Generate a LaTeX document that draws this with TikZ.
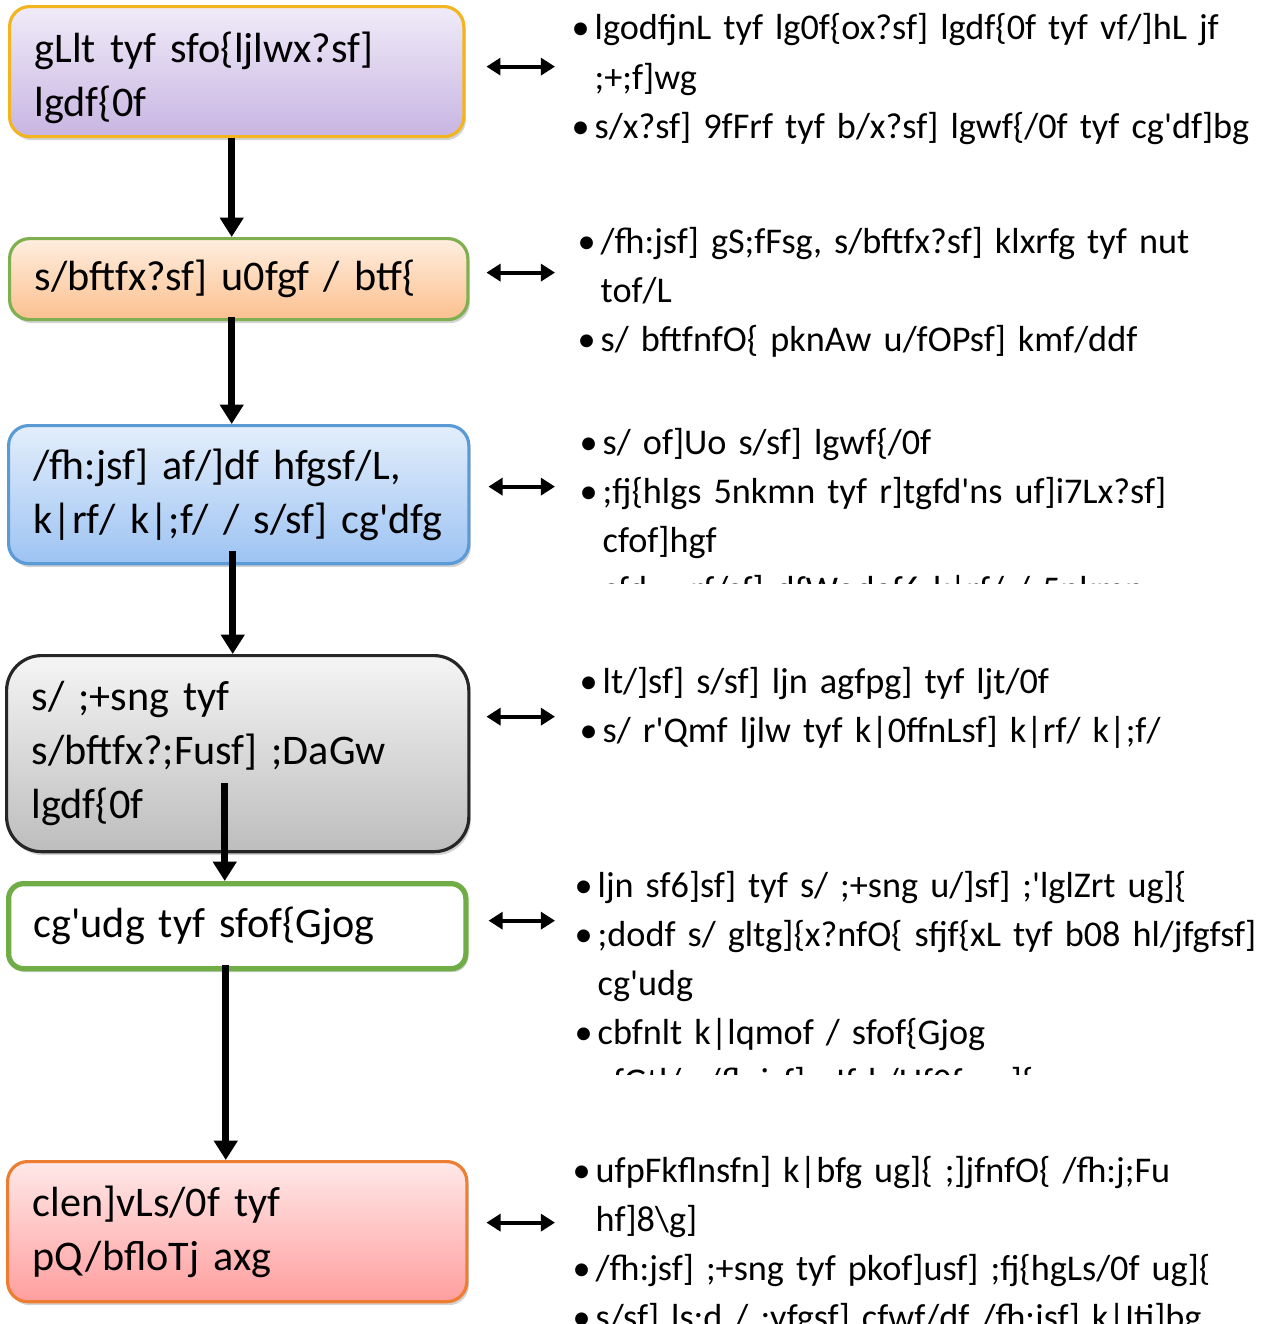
\documentclass[tikz,border=0pt]{standalone}
\usepackage{fontspec}
\setmainfont{Carlito}[Ligatures=TeXOff, WordSpace=0.85]
\usetikzlibrary{arrows.meta, % For the arrow tips
                shadows,     % For the box shadows
               }

\definecolor{lilactop}{HTML}{F0EBF8}
\definecolor{lilacbot}{HTML}{C8B5E2}
\definecolor{goldline}{HTML}{F2B41F}
\definecolor{peachtop}{HTML}{FFEEDF}
\definecolor{peachbot}{HTML}{FBC08F}
\definecolor{leafline}{HTML}{7FB050}
\definecolor{skytop}{HTML}{E3EEFB}
\definecolor{skybot}{HTML}{9DC3F3}
\definecolor{skyline}{HTML}{5B9BD5}
\definecolor{greytop}{HTML}{F5F5F5}
\definecolor{greybot}{HTML}{BDBDBD}
\definecolor{grassline}{HTML}{70AD47}
\definecolor{rosetop}{HTML}{FFE8E8}
\definecolor{rosebot}{HTML}{FF9E9E}
\definecolor{rustline}{HTML}{ED7D31}

\newcommand{\itm}{\makebox[0.23cm][l]{\textbullet}}
\newcommand{\cnt}{\hspace*{0.23cm}}

\tikzset{
  stage/.style={draw, rounded corners=0.2cm, anchor=north west, align=left,
                inner xsep=0.25cm, inner ysep=0pt, line width=0.9pt,
                font=\fontsize{12}{15.3}\selectfont,
                drop shadow={shadow xshift=0.02cm, shadow yshift=-0.035cm, opacity=0.35}},
  notes/.style={anchor=base west, inner sep=0pt, text width=7cm, align=left,
                font=\fontsize{10.3}{13.94}\selectfont},
  flow/.style={-{Triangle[length=5.5pt,width=6.5pt]}, line width=2pt},
  both/.style={{Triangle[length=4pt,width=4.8pt]}-{Triangle[length=4pt,width=4.8pt]}, line width=1.1pt},
}

\begin{document}
\begin{tikzpicture}[x=0.01cm, y=-0.01cm]
    \useasboundingbox (0,0) rectangle (1268,1324);

    % the six stages
    \node[stage, draw=goldline, top color=lilactop, bottom color=lilacbot,
          text width=4.04cm, minimum height=1.30cm] (b1) at (8,5)
          {\rule{0pt}{0.43cm}gLlt tyf sfo\{ljlwx?sf]\\lgdf\{0f};
    \node[stage, draw=leafline, top color=peachtop, bottom color=peachbot,
          text width=4.08cm, minimum height=0.81cm] (b2) at (8,237)
          {s/bftfx?sf] u0fgf / btf\{};
    \node[stage, draw=skyline, top color=skytop, bottom color=skybot,
          text width=4.1cm, minimum height=1.38cm] (b3) at (7,424)
          {/fh:jsf] af/]df hfgsf/L,\\k|rf/ k|;f/ / s/sf] cg'dfg};
    \node[stage, draw=black!85, top color=greytop, bottom color=greybot, rounded corners=0.35cm,
          text width=4.12cm, minimum height=1.96cm] (b4) at (5,654)
          {s/ ;+sng tyf\\s/bftfx?;Fusf] ;DaGw\\lgdf\{0f};
    \node[stage, draw=grassline, fill=white, line width=1.5pt, rounded corners=0.15cm,
          text width=4.07cm, minimum height=0.85cm] (b5) at (6,881)
          {cg'udg tyf sfof\{Gjog};
    \node[stage, draw=rustline, top color=rosetop, bottom color=rosebot,
          text width=4.09cm, minimum height=1.40cm] (b6) at (6,1160)
          {clen]vLs/0f tyf\\pQ/bfloTj axg};

    % the notes beside them
    \node[notes] (p1) at (571,40)
          {\itm lgodfjnL tyf lg0f\{ox?sf] lgdf\{0f tyf vf/]hL jf\\
           \cnt ;+;f]wg\\
           \itm s/x?sf] 9fFrf tyf b/x?sf] lgwf\{/0f tyf cg'df]bg};
    \node[notes] (p2) at (577,253)
          {\itm /fh:jsf] gS;fFsg, s/bftfx?sf] klxrfg tyf nut\\
           \cnt tof/L\\
           \itm s/ bftfnfO\{ pknAw u/fOPsf] kmf/ddf};
    \begin{scope}
      \clip (560,415) rectangle (1268,583);
      \node[notes] (p3) at (579,454)
            {\itm s/ of]Uo s/sf] lgwf\{/0f\\
             \itm ;fj\{hlgs 5nkmn tyf r]tgfd'ns uf]i7Lx?sf]\\
             \cnt cfof]hgf\\
             \itm cfd ; ;rf/sf] dfWodaf6 k|rf/ / 5nkmn};
    \end{scope}
    \node[notes] (p4) at (579,693)
          {\itm lt/]sf] s/sf] ljn agfpg] tyf ljt/0f\\
           \itm s/ r'Qmf ljlw tyf k|0ffnLsf] k|rf/ k|;f/};
    \begin{scope}
      \clip (560,860) rectangle (1268,1074);
      \node[notes] (p5) at (574,897)
            {\itm ljn sf6]sf] tyf s/ ;+sng u/]sf] ;'lglZrt ug]\{\\
             \itm ;dodf s/ gltg]\{x?nfO\{ sfjf\{xL tyf b08 hl/jfgfsf]\\
             \cnt cg'udg\\
             \itm cbfnlt k|lqmof / sfof\{Gjog\\
             \itm cfGtl/s /fh:jsf] nIf k/Uf0f ug]\{};
    \end{scope}
    \node[notes] (p6) at (572,1182)
          {\itm ufpFkflnsfn] k|bfg ug]\{ ;]jfnfO\{ /fh:j;Fu\\
           \cnt hf]8\textbackslash g]\\
           \itm /fh:jsf] ;+sng tyf pkof]usf] ;fj\{hgLs/0f ug]\{\\
           \itm s/sf] ls;d / ;yfgsf] cfwf/df /fh:jsf] k|Iti]bg};

    % downward flow
    \draw[flow] ([shift={(-5,0)}]b1.south) -- ([shift={(-5,0)}]b1.south |- b2.north);
    \draw[flow] ([shift={(-7,-4)}]b2.south) -- ([shift={(-7,0)}]b2.south |- b3.north);
    \draw[flow] ([shift={(-6,-14)}]b3.south) -- ([shift={(-6,0)}]b3.south |- b4.north);
    \draw[flow] ([shift={(-13,-70)}]b4.south) -- ([shift={(-13,0)}]b4.south |- b5.north);
    \draw[flow] ([shift={(-11.5,-6)}]b5.south) -- ([shift={(-11.5,0)}]b5.south |- b6.north);

    % links to the notes
    \draw[both] ([shift={(21,-5)}]b1.east) -- ([shift={(-16,-5)}]b1.east -| p1.west);
    \draw[both] ([shift={(17,-6.5)}]b2.east) -- ([shift={(-22,-6.5)}]b2.east -| p2.west);
    \draw[both] ([shift={(18,-8)}]b3.east) -- ([shift={(-24,-8)}]b3.east -| p3.west);
    \draw[both] ([shift={(16,-37)}]b4.east) -- ([shift={(-24,-37)}]b4.east -| p4.west);
    \draw[both] ([shift={(20,-5.5)}]b5.east) -- ([shift={(-19,-5.5)}]b5.east -| p5.west);
    \draw[both] ([shift={(18,-9)}]b6.east) -- ([shift={(-17,-9)}]b6.east -| p6.west);
\end{tikzpicture}
\end{document}
